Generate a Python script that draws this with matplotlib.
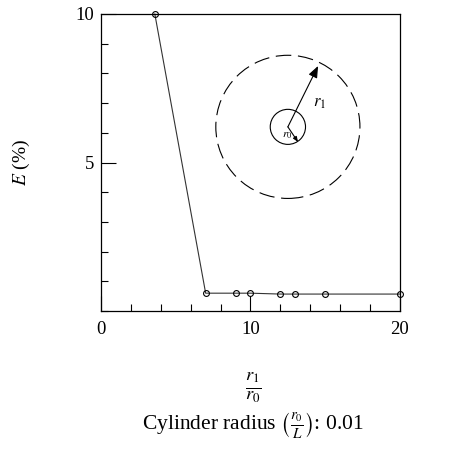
import numpy as np
from matplotlib import pyplot as plt
from matplotlib.patches import Circle, FancyArrowPatch
from matplotlib.ticker import MultipleLocator, FixedLocator

''' Data read from the figure '''
ratio = [3.6, 7.0, 9.0, 10.0, 12.0, 13.0, 15.0, 20.0]
error = [10.0, 0.6, 0.6, 0.6, 0.57, 0.57, 0.57, 0.57]
xTicks = [0, 10, 20]
yTicks = [5, 10]

plt.rcParams['font.family'] = ['Liberation Serif', 'DejaVu Serif']
plt.rcParams['mathtext.fontset'] = 'stix'

fig = plt.figure(figsize=(4.56, 4.53), dpi=100)
ax = fig.add_axes([101/456, 1 - 311/453, 299/456, 297/453])

ax.plot(ratio, error, '-', color='#333333', linewidth=0.8,
        marker='o', markersize=4.2, markerfacecolor='none',
        markeredgecolor='black', markeredgewidth=0.8, clip_on=False)

ax.set_xlim(0, 20)
ax.set_ylim(0, 10)
ax.xaxis.set_major_locator(FixedLocator(xTicks))
ax.xaxis.set_minor_locator(MultipleLocator(2))
ax.yaxis.set_major_locator(FixedLocator(yTicks))
ax.yaxis.set_minor_locator(MultipleLocator(1))
ax.tick_params(which='both', direction='in', width=0.8, labelsize=13.5)
ax.tick_params(which='major', length=11)
ax.tick_params(which='minor', length=5)
ax.tick_params(axis='x', pad=7)
ax.tick_params(axis='y', pad=5)
for s in ax.spines.values():
    s.set_linewidth(0.9)

''' Inset sketch of the cylinder and the outer radius '''
centre = (0.625, 0.62)
ax.add_patch(Circle(centre, 0.241, transform=ax.transAxes, fill=False,
                    linestyle=(0, (14, 6)), linewidth=0.8, color='black'))
ax.add_patch(Circle(centre, 0.059, transform=ax.transAxes, fill=False,
                    linewidth=0.8, color='black'))
ax.add_patch(FancyArrowPatch(centre, (0.726, 0.825), transform=ax.transAxes,
                             arrowstyle='-|>,head_length=7,head_width=2.8',
                             linewidth=0.8, color='black', shrinkA=0, shrinkB=0))
ax.add_patch(FancyArrowPatch(centre, (0.659, 0.569), transform=ax.transAxes,
                             arrowstyle='-|>,head_length=3,head_width=1.2',
                             linewidth=0.8, color='black', shrinkA=0, shrinkB=0))
ax.text(0.708, 0.70, '$r_1$', transform=ax.transAxes, fontsize=12,
        ha='left', va='center')
ax.text(0.622, 0.593, '$r_0$', transform=ax.transAxes, fontsize=8.5,
        ha='center', va='center')

ax.set_ylabel('$E$ (%)', fontsize=14, labelpad=31)
fig.text(253/456, 1 - 388/453, r'$\frac{r_1}{r_0}$', fontsize=19,
         ha='center', va='center')
fig.text(253/456, 1 - 426/453, r'Cylinder radius $\left(\frac{r_0}{L}\right)$: 0.01',
         fontsize=15.5, ha='center', va='center')

fig.savefig('out.png', dpi=100)
